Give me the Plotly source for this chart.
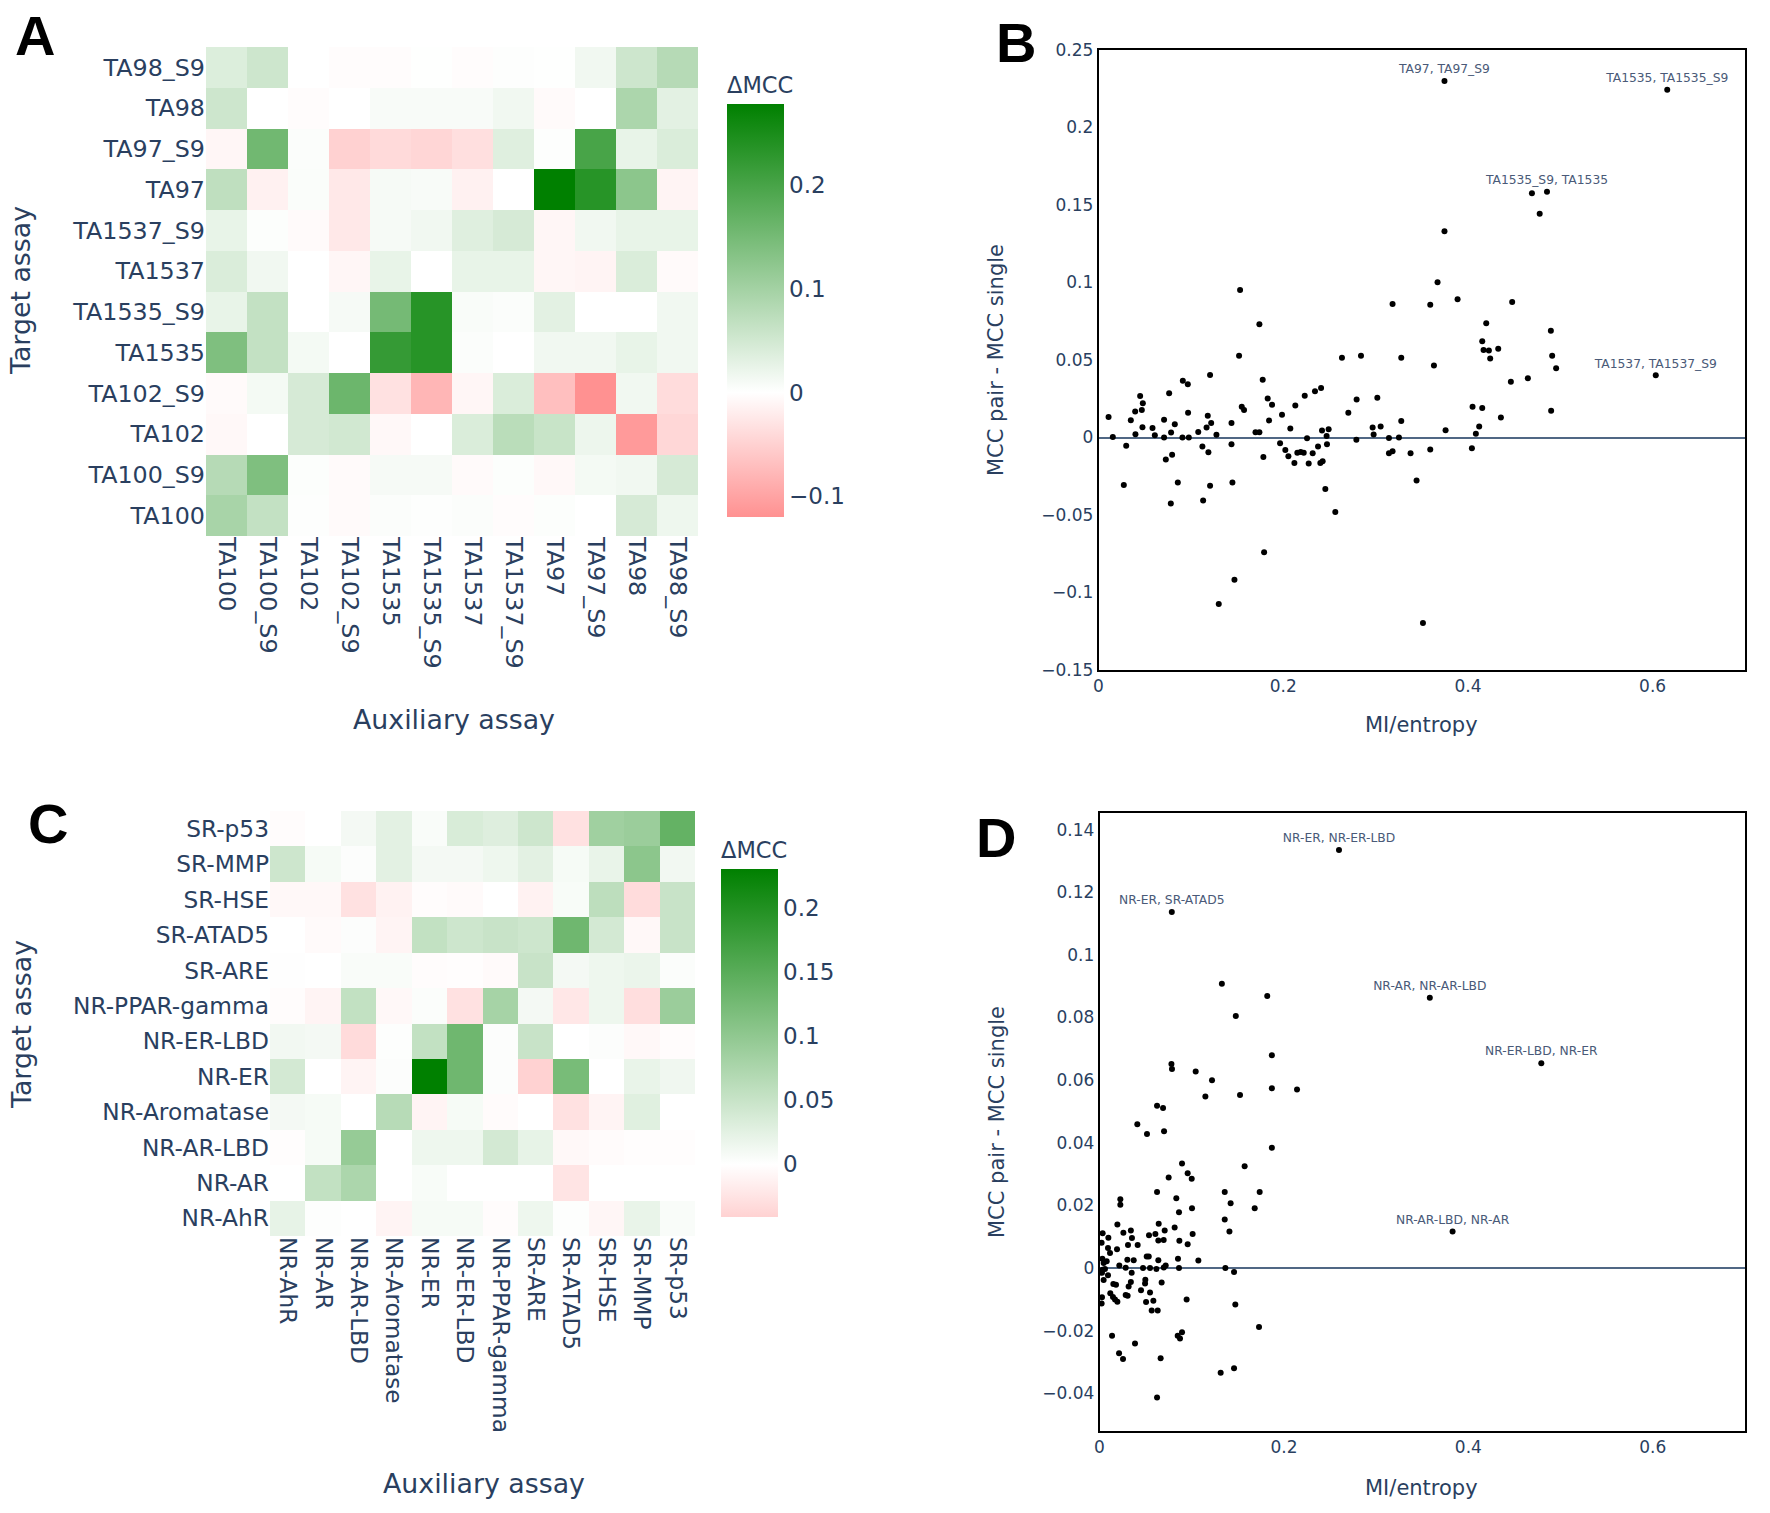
import plotly.graph_objects as go

W, H = 1770, 1513
FONT = "DejaVu Sans"
TXT = "#2a3f5f"

# ---------------- Panel A data ----------------
aux_A = ["TA100", "TA100_S9", "TA102", "TA102_S9", "TA1535", "TA1535_S9",
         "TA1537", "TA1537_S9", "TA97", "TA97_S9", "TA98", "TA98_S9"]
target_A = ["TA98_S9", "TA98", "TA97_S9", "TA97", "TA1537_S9", "TA1537",
            "TA1535_S9", "TA1535", "TA102_S9", "TA102", "TA100_S9", "TA100"]
z_A = [
    [0.038, 0.055, 0.0, -0.003, -0.003, 0.001, -0.003, 0.002, 0.001, 0.015, 0.055, 0.08],
    [0.055, 0.0, -0.003, 0.0, 0.008, 0.008, 0.008, 0.015, -0.005, 0.0, 0.09, 0.03],
    [-0.01, 0.155, 0.004, -0.05, -0.04, -0.045, -0.035, 0.035, 0.002, 0.2, 0.025, 0.04],
    [0.07, -0.015, 0.005, -0.025, 0.01, 0.008, -0.015, 0.0, 0.278, 0.235, 0.125, -0.012],
    [0.025, 0.003, -0.005, -0.025, 0.01, 0.015, 0.035, 0.045, -0.01, 0.015, 0.025, 0.025],
    [0.04, 0.015, 0.0, -0.01, 0.025, 0.0, 0.025, 0.025, -0.01, -0.012, 0.04, -0.005],
    [0.025, 0.065, 0.0, 0.01, 0.15, 0.235, 0.006, 0.004, 0.03, 0.0, 0.0, 0.015],
    [0.14, 0.065, 0.012, 0.0, 0.22, 0.235, 0.004, 0.0, 0.015, 0.015, 0.025, 0.015],
    [-0.006, 0.012, 0.045, 0.16, -0.033, -0.08, -0.01, 0.04, -0.07, -0.12, 0.015, -0.038],
    [-0.008, 0.0, 0.045, 0.05, -0.008, 0.0, 0.04, 0.075, 0.06, 0.02, -0.11, -0.044],
    [0.08, 0.14, 0.003, -0.005, 0.01, 0.01, -0.006, 0.003, -0.008, 0.012, 0.015, 0.045],
    [0.095, 0.065, 0.002, -0.006, 0.004, 0.002, 0.004, -0.003, 0.003, 0.0, 0.045, 0.018],
]

# ---------------- Panel C data ----------------
aux_C = ["NR-AhR", "NR-AR", "NR-AR-LBD", "NR-Aromatase", "NR-ER", "NR-ER-LBD",
         "NR-PPAR-gamma", "SR-ARE", "SR-ATAD5", "SR-HSE", "SR-MMP", "SR-p53"]
target_C = ["SR-p53", "SR-MMP", "SR-HSE", "SR-ATAD5", "SR-ARE", "NR-PPAR-gamma",
            "NR-ER-LBD", "NR-ER", "NR-Aromatase", "NR-AR-LBD", "NR-AR", "NR-AhR"]
z_C = [
    [-0.003, 0.0, 0.01, 0.025, 0.005, 0.035, 0.03, 0.045, -0.027, 0.086, 0.09, 0.14],
    [0.045, 0.008, 0.003, 0.025, 0.01, 0.01, 0.015, 0.025, 0.008, 0.02, 0.104, 0.012],
    [-0.006, -0.006, -0.027, -0.012, -0.003, -0.005, 0.0, -0.012, 0.006, 0.06, -0.032, 0.05],
    [0.0, -0.005, 0.003, -0.01, 0.055, 0.045, 0.05, 0.045, 0.13, 0.04, -0.006, 0.05],
    [0.001, 0.0, 0.005, 0.005, -0.003, -0.002, -0.005, 0.05, 0.01, 0.015, 0.018, 0.004],
    [-0.003, -0.01, 0.055, -0.006, 0.004, -0.027, 0.08, 0.01, -0.022, 0.015, -0.03, 0.09],
    [0.012, 0.01, -0.033, 0.002, 0.055, 0.13, 0.003, 0.05, 0.0, 0.003, -0.006, -0.003],
    [0.04, 0.0, -0.01, 0.003, 0.2304, 0.13, 0.003, -0.041, 0.122, 0.0, 0.02, 0.014],
    [0.01, 0.008, 0.0, 0.065, -0.01, 0.008, -0.004, 0.0, -0.027, -0.01, 0.028, 0.0],
    [-0.002, 0.008, 0.095, 0.0, 0.015, 0.015, 0.04, 0.022, -0.006, -0.004, -0.002, -0.002],
    [0.0, 0.055, 0.075, 0.0, 0.006, 0.0, 0.0, 0.0, -0.025, 0.0, 0.0, 0.0],
    [0.022, 0.002, 0.0, -0.01, 0.008, 0.008, -0.003, 0.015, 0.002, -0.008, 0.02, 0.005],
]

# ---------------- Panel B data ----------------
b_x = [0.0109, 0.0155, 0.0274, 0.030, 0.035, 0.0397, 0.040, 0.0451, 0.048, 0.0469,
       0.0476, 0.0585, 0.061, 0.071, 0.071, 0.0729, 0.0765, 0.0786, 0.0797, 0.0783,
       0.0826, 0.0859, 0.0913, 0.0967, 0.0909, 0.0978, 0.097, 0.108, 0.1125, 0.1133,
       0.117, 0.1183, 0.122, 0.119, 0.1208, 0.1208, 0.1277, 0.1302, 0.144, 0.144,
       0.145, 0.1472, 0.1522, 0.1533, 0.1551, 0.1576, 0.170, 0.1742, 0.1742, 0.1778,
       0.1785, 0.1793, 0.1832, 0.1847, 0.1879, 0.1987, 0.1966, 0.2023, 0.2056, 0.2077,
       0.2121, 0.2131, 0.2153, 0.2189, 0.2222, 0.2233, 0.2258, 0.2276, 0.2319, 0.2344,
       0.2377, 0.241, 0.2402, 0.2427, 0.242, 0.2456, 0.2474, 0.247, 0.2492, 0.2564,
       0.2636, 0.2705, 0.2795, 0.2792, 0.2842, 0.2968, 0.2979, 0.3055, 0.3019, 0.3145,
       0.3145, 0.3184, 0.3184, 0.3253, 0.3278, 0.3278, 0.3379, 0.3444, 0.3513, 0.3592,
       0.3592, 0.3632, 0.3671, 0.3758, 0.3888, 0.4043, 0.405, 0.4086, 0.4122, 0.4155,
       0.4155, 0.4198, 0.4169, 0.4227, 0.4241, 0.4328, 0.4357, 0.4465, 0.4479, 0.4649,
       0.4898, 0.4912, 0.4901, 0.4955, 0.4693, 0.4777, 0.3746]
b_y = [0.0133, 0.0004, -0.0306, -0.0054, 0.0111, 0.0167, 0.0021, 0.0268, 0.0221, 0.0178,
       0.0066, 0.0062, 0.0015, 0.0114, 0.0, -0.0142, 0.0286, 0.0032, -0.0112, -0.0425,
       0.0086, -0.0291, 0.0366, 0.0344, 0.0, 0.0, 0.0159, 0.0036, -0.0058, -0.0407,
       0.0064, 0.0141, 0.0094, -0.0095, -0.0312, 0.0404, 0.0017, -0.1074, 0.0094, -0.0043,
       -0.0291, -0.0917, 0.0528, 0.0952, 0.0198, 0.0178, 0.0034, 0.0034, 0.0731, 0.0372,
       -0.0125, -0.074, 0.0251, 0.011, 0.0212, 0.0146, -0.0037, -0.008, -0.0121, 0.0058,
       -0.0164, 0.0206, -0.0099, -0.0093, -0.0099, 0.027, -0.0005, -0.0168, -0.0101, 0.0298,
       -0.0058, 0.032, -0.0164, -0.0153, 0.0045, -0.0332, -0.0043, 0.001, 0.0053, -0.048,
       0.0514, 0.016, 0.0245, -0.0015, 0.0528, 0.0064, 0.0019, 0.0071, 0.0256, -0.0003,
       -0.0101, -0.0088, 0.0862, 0.0, 0.0514, 0.0107, -0.0101, -0.0278, -0.1196, 0.0857,
       -0.0078, 0.0464, 0.1002, 0.0047, 0.0892, -0.0069, 0.0199, 0.0025, 0.0071, 0.0191,
       0.0621, 0.0737, 0.0565, 0.0561, 0.0509, 0.0573, 0.0129, 0.0359, 0.0875, 0.0382,
       0.0688, 0.0528, 0.0172, 0.0447, 0.1576, 0.1444, 0.1331]
b_lab_x = [0.3746, 0.6158, 0.4856, 0.6034]
b_lab_y = [0.230, 0.2243, 0.1585, 0.0401]
b_lab_text = ["TA97, TA97_S9", "TA1535, TA1535_S9", "TA1535_S9, TA1535", "TA1537, TA1537_S9"]

# ---------------- Panel D data ----------------
d_x = [0.1869, 0.078, 0.0786, 0.1043, 0.122, 0.1148, 0.1524, 0.1869, 0.2142, 0.0624,
       0.0689, 0.041, 0.0515, 0.07, 0.1869, 0.0895, 0.1574, 0.0956, 0.1, 0.075,
       0.0624, 0.1358, 0.1737, 0.0833, 0.1422, 0.1683, 0.0226, 0.0226, 0.0862, 0.1003,
       0.1358, 0.1409, 0.0194, 0.0642, 0.0815, 0.0707, 0.034, 0.0259, 0.0537, 0.0606,
       0.101, 0.0352, 0.0638, 0.0696, 0.0866, 0.0956, 0.0309, 0.0414, 0.0034, 0.0023,
       0.0096, 0.0092, 0.0114, 0.019, 0.0512, 0.0534, 0.0302, 0.0371, 0.0638, 0.0851,
       0.1072, 0.0031, 0.0078, 0.0045, 0.0215, 0.0284, 0.0472, 0.0548, 0.0617, 0.0697,
       0.0718, 0.0862, 0.1365, 0.1459, 0.0034, 0.006, 0.0027, 0.0349, 0.0092, 0.0045,
       0.015, 0.0179, 0.034, 0.0497, 0.0494, 0.0674, 0.0316, 0.0284, 0.0305, 0.045,
       0.0548, 0.0117, 0.0146, 0.0027, 0.0168, 0.0194, 0.0023, 0.0505, 0.0584, 0.0566,
       0.0631, 0.0945, 0.1473, 0.0136, 0.0385, 0.0848, 0.0873, 0.0895, 0.173, 0.0212,
       0.0255, 0.0663, 0.1314, 0.1459, 0.0624, 0.1327, 0.1819, 0.1478]
d_y = [0.068, 0.0652, 0.0636, 0.0628, 0.06, 0.0548, 0.0553, 0.0574, 0.057, 0.0518,
       0.0511, 0.0459, 0.0428, 0.0437, 0.0384, 0.0334, 0.0325, 0.0303, 0.0285, 0.0289,
       0.0243, 0.0243, 0.0243, 0.0223, 0.0207, 0.0191, 0.022, 0.0202, 0.0178, 0.0191,
       0.0155, 0.0117, 0.0139, 0.0142, 0.013, 0.012, 0.012, 0.0113, 0.0105, 0.0109,
       0.0109, 0.0096, 0.0088, 0.009, 0.0087, 0.0076, 0.0074, 0.0074, 0.0111, 0.0081,
       0.0097, 0.0064, 0.0048, 0.006, 0.0037, 0.0037, 0.0027, 0.0025, 0.0025, 0.003,
       0.0024, 0.003, 0.0022, 0.0016, 0.0008, 0.0001, 0.0, 0.0, -0.0003, 0.0002,
       0.0008, 0.0, 0.0, -0.0012, -0.0005, -0.0003, -0.0015, -0.0015, -0.0023, -0.0038,
       -0.0051, -0.0053, -0.0044, -0.0037, -0.0049, -0.0046, -0.0059, -0.0086, -0.0088, -0.0071,
       -0.0078, -0.008, -0.0092, -0.0093, -0.01, -0.0107, -0.0113, -0.0108, -0.0104, -0.0135,
       -0.0135, -0.01, -0.0116, -0.0216, -0.0241, -0.0216, -0.0225, -0.0205, -0.0188, -0.0272,
       -0.029, -0.0288, -0.0334, -0.032, -0.0413, 0.0908, 0.0869, 0.0805]
d_lab_x = [0.2597, 0.0784, 0.3582, 0.4791, 0.3829]
d_lab_y = [0.1335, 0.1137, 0.0863, 0.0654, 0.0117]
d_lab_text = ["NR-ER, NR-ER-LBD", "NR-ER, SR-ATAD5", "NR-AR, NR-AR-LBD",
              "NR-ER-LBD, NR-ER", "NR-AR-LBD, NR-AR"]


# ---------------- helpers (window pixel -> paper fraction) ----------------
def px_x(p):
    return p / W


def px_y(p):
    return 1 - p / H


def diverging_scale(z):
    flat = [v for row in z for v in row]
    lo, hi = min(flat), max(flat)
    m = max(abs(lo), abs(hi))
    f = abs(lo) / m
    low_col = "rgb(255,%d,%d)" % (round(255 * (1 - f)), round(255 * (1 - f)))
    p0 = -lo / (hi - lo)
    return [[0, low_col], [p0, "rgb(255,255,255)"], [1, "rgb(0,128,0)"]], lo, hi


TITLE_SPACE = 31  # pixels the colorbar title takes inside its length

fig = go.Figure()

csA, loA, hiA = diverging_scale(z_A)
fig.add_trace(go.Heatmap(
    z=z_A, x=aux_A, y=target_A, colorscale=csA, zmin=loA, zmax=hiA,
    xaxis="x", yaxis="y",
    colorbar=dict(x=px_x(727), xanchor="left", xpad=0, ypad=0,
                  y=px_y((104 - TITLE_SPACE + 517) / 2), yanchor="middle",
                  len=413 + TITLE_SPACE, lenmode="pixels", thickness=57,
                  thicknessmode="pixels", outlinewidth=0, tick0=0, dtick=0.1,
                  tickfont=dict(size=23, family=FONT, color=TXT),
                  title=dict(text="ΔMCC", side="top",
                             font=dict(size=22.5, family=FONT, color=TXT))),
))

csC, loC, hiC = diverging_scale(z_C)
fig.add_trace(go.Heatmap(
    z=z_C, x=aux_C, y=target_C, colorscale=csC, zmin=loC, zmax=hiC,
    xaxis="x3", yaxis="y3",
    colorbar=dict(x=px_x(721), xanchor="left", xpad=0, ypad=0,
                  y=px_y((869 - TITLE_SPACE + 1217) / 2), yanchor="middle",
                  len=348 + TITLE_SPACE, lenmode="pixels", thickness=57,
                  thicknessmode="pixels", outlinewidth=0, tick0=0, dtick=0.05,
                  tickfont=dict(size=23, family=FONT, color=TXT),
                  title=dict(text="ΔMCC", side="top",
                             font=dict(size=22.5, family=FONT, color=TXT))),
))

fig.add_trace(go.Scatter(x=b_x, y=b_y, mode="markers", xaxis="x2", yaxis="y2",
                         marker=dict(color="black", size=6), showlegend=False))
fig.add_trace(go.Scatter(x=b_lab_x, y=b_lab_y, mode="markers+text", text=b_lab_text,
                         textposition="top center", xaxis="x2", yaxis="y2",
                         textfont=dict(size=12.3, family=FONT, color="#4a5a78"),
                         marker=dict(color="black", size=6), showlegend=False))

fig.add_trace(go.Scatter(x=d_x, y=d_y, mode="markers", xaxis="x4", yaxis="y4",
                         marker=dict(color="black", size=6), showlegend=False))
fig.add_trace(go.Scatter(x=d_lab_x, y=d_lab_y, mode="markers+text", text=d_lab_text,
                         textposition="top center", xaxis="x4", yaxis="y4",
                         textfont=dict(size=12.3, family=FONT, color="#4a5a78"),
                         marker=dict(color="black", size=6), showlegend=False))

hm_axis = dict(showgrid=False, zeroline=False, showline=False, ticks="", automargin=False)
sc_axis = dict(showgrid=False, showline=True, mirror=True, linecolor="black",
               linewidth=1.5, ticks="", automargin=False,
               tickfont=dict(size=17, family=FONT, color=TXT))

fig.update_layout(
    width=W, height=H, margin=dict(l=0, r=0, t=0, b=0, pad=0), autosize=False,
    paper_bgcolor="white", plot_bgcolor="white",
    font=dict(family=FONT, color=TXT),
    showlegend=False,
    xaxis=dict(hm_axis, domain=[px_x(206), px_x(698)], anchor="y", tickangle=90,
               tickfont=dict(size=23.8, family=FONT, color=TXT)),
    yaxis=dict(hm_axis, domain=[px_y(536), px_y(47)], anchor="x", autorange="reversed",
               tickfont=dict(size=23.8, family=FONT, color=TXT)),
    xaxis3=dict(hm_axis, domain=[px_x(270), px_x(695)], anchor="y3", tickangle=90,
                tickfont=dict(size=23.3, family=FONT, color=TXT)),
    yaxis3=dict(hm_axis, domain=[px_y(1236), px_y(811)], anchor="x3", autorange="reversed",
                tickfont=dict(size=23.3, family=FONT, color=TXT)),
    xaxis2=dict(sc_axis, domain=[px_x(1098.5), px_x(1745)], anchor="y2",
                range=[0, 0.7], dtick=0.2, zeroline=False),
    yaxis2=dict(sc_axis, domain=[px_y(670), px_y(50)], anchor="x2",
                range=[-0.15, 0.25], dtick=0.05, zeroline=True,
                zerolinecolor="#506784", zerolinewidth=1.5),
    xaxis4=dict(sc_axis, domain=[px_x(1099.5), px_x(1745)], anchor="y4",
                range=[0, 0.7], dtick=0.2, zeroline=False),
    yaxis4=dict(sc_axis, domain=[px_y(1431), px_y(813)], anchor="x4",
                range=[-0.052, 0.1453], dtick=0.02, zeroline=True,
                zerolinecolor="#506784", zerolinewidth=1.5),
)


def ann(text, x, y, size, angle=0, bold=False, color=TXT, family=FONT):
    fig.add_annotation(text=("<b>%s</b>" % text) if bold else text,
                       x=px_x(x), y=px_y(y), xref="paper", yref="paper",
                       showarrow=False, xanchor="center", yanchor="middle",
                       textangle=angle, font=dict(size=size, family=family, color=color))


for letter, cx, cy in [("A", 35, 36), ("B", 1016, 42), ("C", 48, 823), ("D", 996, 837)]:
    ann(letter, cx, cy, 56, bold=True, color="black", family="Liberation Sans")

ann("Target assay", 21, 291, 26.8, angle=-90)
ann("Auxiliary assay", 454, 719, 26.8)
ann("Target assay", 21, 1025, 26.8, angle=-90)
ann("Auxiliary assay", 484, 1483, 26.8)
ann("MCC pair - MCC single", 996, 360, 21, angle=-90)
ann("MI/entropy", 1421, 725, 21)
ann("MCC pair - MCC single", 997, 1122, 21, angle=-90)
ann("MI/entropy", 1421, 1488, 21)

# the page's default 8px body margin would push the 1770x1513 figure off the window
fig.write_html("out.html", config={"displayModeBar": False},
               post_script="document.body.style.margin='0px';")
